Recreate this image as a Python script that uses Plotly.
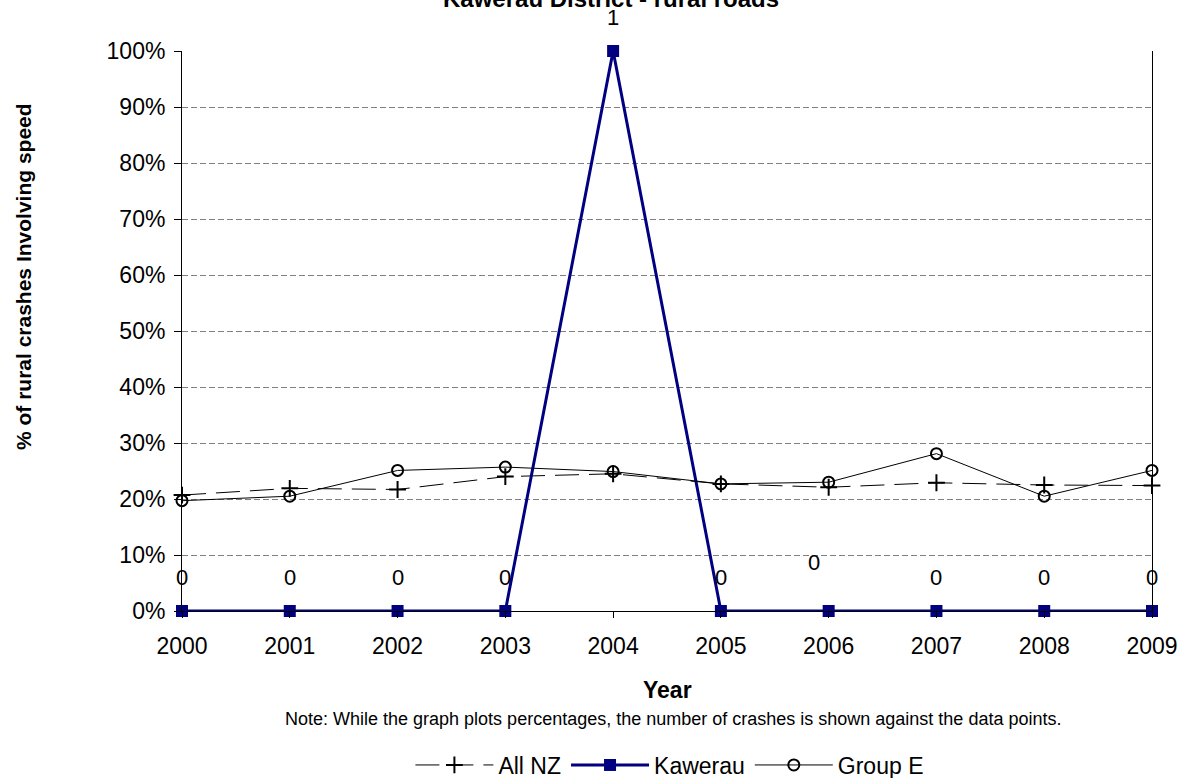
import plotly.graph_objects as go

years = [2000, 2001, 2002, 2003, 2004, 2005, 2006, 2007, 2008, 2009]
all_nz = [0.207, 0.219, 0.217, 0.240, 0.245, 0.227, 0.221, 0.229, 0.225, 0.224]
kawerau = [0, 0, 0, 0, 1.0, 0, 0, 0, 0, 0]
group_e = [0.197, 0.205, 0.251, 0.257, 0.249, 0.227, 0.230, 0.281, 0.205, 0.251]
kawerau_counts = ["0", "0", "0", "0", "1", "0", "0", "0", "0", "0"]
y_ticks = [0, 0.1, 0.2, 0.3, 0.4, 0.5, 0.6, 0.7, 0.8, 0.9, 1.0]

FONT = "Liberation Sans, Arial, sans-serif"

fig = go.Figure()
fig.add_trace(go.Scatter(
    x=years, y=all_nz, name="All NZ", mode="lines+markers",
    line=dict(color="black", width=1, dash="24px,10px"),
    marker=dict(symbol="cross-thin-open", size=12, line=dict(color="black", width=2)),
    cliponaxis=False))
fig.add_trace(go.Scatter(
    x=years, y=kawerau, name="Kawerau", mode="lines+markers",
    line=dict(color="#000080", width=3),
    marker=dict(symbol="square", size=12, color="#000080"),
    cliponaxis=False))
fig.add_trace(go.Scatter(
    x=years, y=group_e, name="Group E", mode="lines+markers",
    line=dict(color="black", width=1),
    marker=dict(symbol="circle-open", size=11, line=dict(color="#404040", width=2)),
    cliponaxis=False))

annotations = []
for x, y, t in zip(years, kawerau, kawerau_counts):
    xs, ys = 0, 34
    if x == 2006:
        xs, ys = -15, 49
    annotations.append(dict(x=x, y=y, text=t, showarrow=False, xshift=xs, yshift=ys,
                            font=dict(family=FONT, size=22, color="black")))

annotations += [
    dict(xref="paper", yref="paper", x=0.4423, y=1.066, xanchor="center",
         text="<b>Kawerau District - rural roads</b>",
         showarrow=False, yanchor="bottom", font=dict(family=FONT, size=24, color="black")),
    dict(xref="paper", yref="paper", x=-0.1639, y=0.5964, xanchor="center", yanchor="middle",
         text="<b>% of rural crashes Involving speed</b>",
         showarrow=False, textangle=-90, font=dict(family=FONT, size=21, color="black")),
    dict(xref="paper", yref="paper", x=0.5005, y=-0.141, xanchor="center", text="<b>Year</b>",
         showarrow=False, yanchor="middle", font=dict(family=FONT, size=23, color="black")),
    dict(xref="paper", yref="paper", x=0.5067, y=-0.192, xanchor="center",
         text="Note: While the graph plots percentages, the number of crashes is shown against the data points.",
         showarrow=False, yanchor="middle", font=dict(family=FONT, size=18, color="black")),
]

fig.update_layout(
    width=1187, height=778,
    margin=dict(l=182, r=35, t=51, b=167, autoexpand=False),
    paper_bgcolor="white", plot_bgcolor="white",
    font=dict(family=FONT, size=23, color="black"),
    showlegend=True,
    legend=dict(orientation="h", x=0.503, xanchor="center", y=-0.275, yanchor="middle",
                font=dict(family=FONT, size=23, color="black"), itemwidth=78,
                bgcolor="rgba(0,0,0,0)"),
    annotations=annotations,
)
fig.update_xaxes(range=[2000, 2009], tickvals=years, ticktext=[str(y) for y in years],
                 showgrid=False, zeroline=False, showline=True, linecolor="black", linewidth=1,
                 ticks="outside", ticklen=6, tickcolor="black", ticklabelstandoff=8,
                 tickfont=dict(family=FONT, size=23))
fig.update_yaxes(range=[0, 1], tickvals=y_ticks, tickformat=".0%",
                 showgrid=True, gridcolor="#808080", griddash="6px,3px", gridwidth=1,
                 zeroline=False, showline=True, mirror=True, linecolor="black", linewidth=1,
                 ticks="outside", ticklen=7, tickcolor="black", ticklabelstandoff=4,
                 tickfont=dict(family=FONT, size=23))

fig.write_html("out.html", config={"displayModeBar": False},
               post_script="document.body.style.margin='0';")
